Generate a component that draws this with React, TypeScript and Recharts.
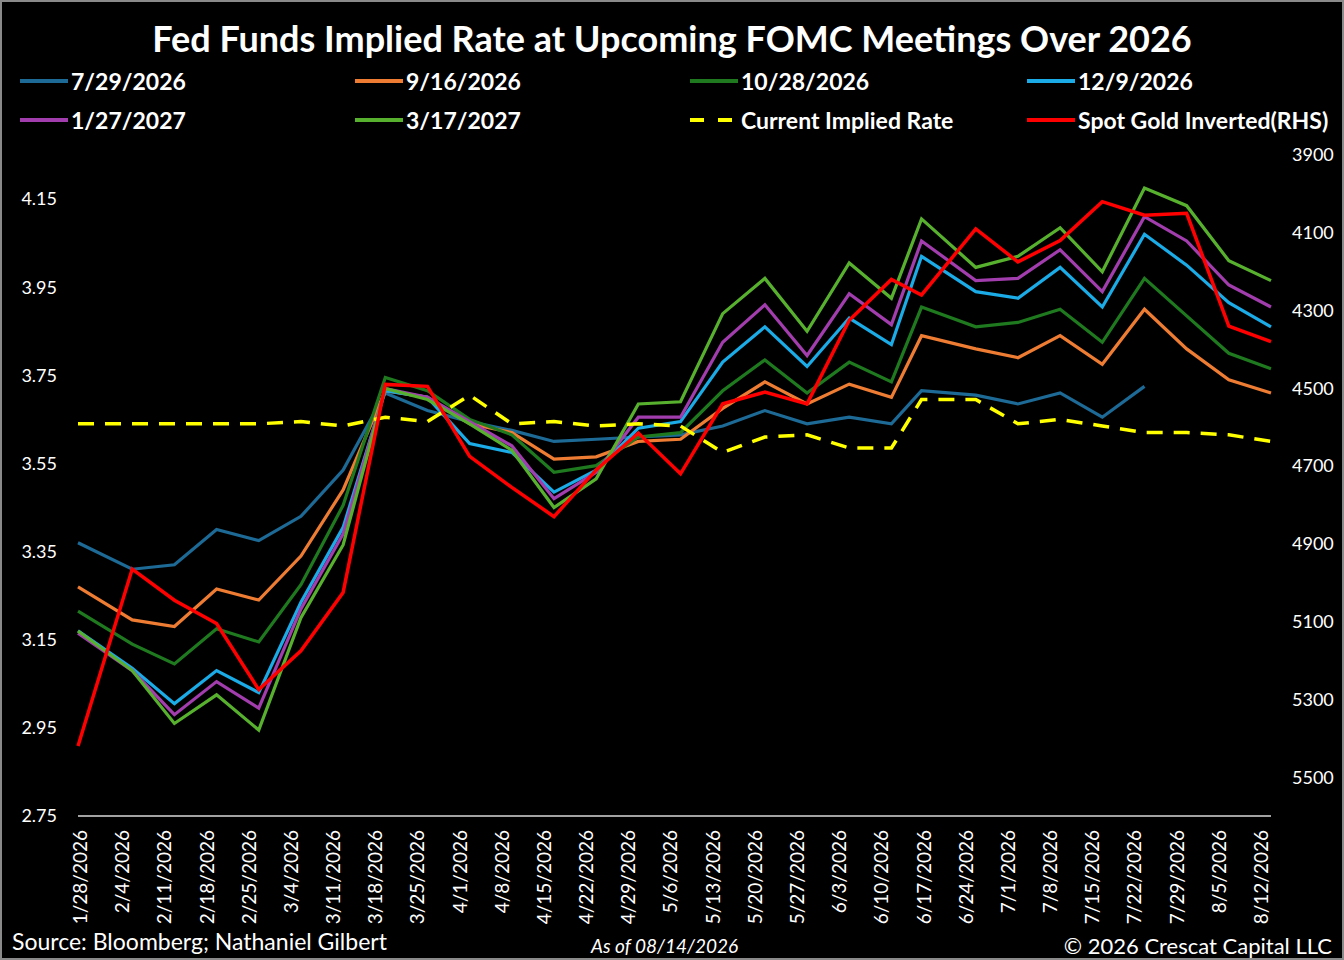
import React from 'react';
import { LineChart, Line, XAxis, YAxis } from 'recharts';

// weekly axis labels (Wednesdays); day offset from 1/28/2026 is index * 7
const tickLabels = [
  '1/28/2026', '2/4/2026', '2/11/2026', '2/18/2026', '2/25/2026', '3/4/2026', '3/11/2026',
  '3/18/2026', '3/25/2026', '4/1/2026', '4/8/2026', '4/15/2026', '4/22/2026', '4/29/2026',
  '5/6/2026', '5/13/2026', '5/20/2026', '5/27/2026', '6/3/2026', '6/10/2026', '6/17/2026',
  '6/24/2026', '7/1/2026', '7/8/2026', '7/15/2026', '7/22/2026', '7/29/2026', '8/5/2026',
  '8/12/2026',
];
const tickDays = tickLabels.map((_, i) => i * 7);

// observation dates, days since 1/28/2026
const obsDays = [
  0, 9, 16, 23, 30, 37, 44, 51, 58, 65, 72, 79, 86, 93, 100, 107, 114, 121, 128, 135,
  140, 149, 156, 163, 170, 177, 184, 191, 198,
];

const fomc0729 = [
  3.37, 3.31, 3.32, 3.4, 3.375, 3.43, 3.535, 3.71, 3.67, 3.645, 3.625, 3.6, 3.605, 3.61, 3.615,
  3.635, 3.67, 3.64, 3.655, 3.64, 3.715, 3.705, 3.685, 3.71, 3.655, 3.725, null, null, null,
];
const fomc0916 = [
  3.27, 3.195, 3.18, 3.265, 3.24, 3.34, 3.49, 3.715, 3.7, 3.64, 3.62, 3.56, 3.565, 3.6, 3.605,
  3.675, 3.735, 3.685, 3.73, 3.7, 3.84, 3.81, 3.79, 3.84, 3.775, 3.9, 3.81, 3.74, 3.71,
];
const fomc1028 = [
  3.215, 3.14, 3.095, 3.175, 3.145, 3.275, 3.455, 3.745, 3.715, 3.65, 3.615, 3.53, 3.545, 3.61,
  3.62, 3.715, 3.785, 3.71, 3.78, 3.735, 3.905, 3.86, 3.87, 3.9, 3.825, 3.97, 3.885, 3.8, 3.765,
];
const fomc1209 = [
  3.17, 3.085, 3.005, 3.08, 3.03, 3.235, 3.405, 3.715, 3.7, 3.595, 3.575, 3.485, 3.535, 3.63,
  3.645, 3.78, 3.86, 3.77, 3.88, 3.82, 4.02, 3.94, 3.925, 3.995, 3.905, 4.07, 4.0, 3.915, 3.86,
];
const fomc0127 = [
  3.165, 3.08, 2.98, 3.055, 2.995, 3.22, 3.39, 3.72, 3.7, 3.645, 3.59, 3.47, 3.53, 3.655, 3.655,
  3.825, 3.91, 3.795, 3.935, 3.865, 4.055, 3.965, 3.97, 4.035, 3.94, 4.11, 4.055, 3.955, 3.905,
];
const fomc0317 = [
  3.17, 3.08, 2.96, 3.025, 2.945, 3.2, 3.365, 3.72, 3.695, 3.64, 3.58, 3.45, 3.515, 3.685, 3.69,
  3.89, 3.97, 3.85, 4.005, 3.925, 4.105, 3.995, 4.02, 4.085, 3.985, 4.175, 4.135, 4.01, 3.965,
];
const currentImplied = [
  3.64, 3.64, 3.64, 3.64, 3.64, 3.645, 3.635, 3.655, 3.645, 3.705, 3.64, 3.645, 3.635, 3.64,
  3.635, 3.575, 3.61, 3.615, 3.585, 3.585, 3.695, 3.695, 3.64, 3.65, 3.635, 3.62, 3.62, 3.615, 3.6,
];
const spotGold = [
  5420, 4965, 5045, 5105, 5275, 5175, 5025, 4490, 4495, 4675, 4755, 4830, 4710, 4615, 4720,
  4540, 4510, 4540, 4325, 4220, 4260, 4090, 4175, 4120, 4020, 4055, 4050, 4340, 4380,
];

const leftTicks = [2.75, 2.95, 3.15, 3.35, 3.55, 3.75, 3.95, 4.15];
const rightTicks = [3900, 4100, 4300, 4500, 4700, 4900, 5100, 5300, 5500];

const series = [
  { key: 'm0729', name: '7/29/2026', color: '#1D6A96', values: fomc0729 },
  { key: 'm0916', name: '9/16/2026', color: '#EE7D33', values: fomc0916 },
  { key: 'm1028', name: '10/28/2026', color: '#1F7A1F', values: fomc1028 },
  { key: 'm1209', name: '12/9/2026', color: '#1BABE6', values: fomc1209 },
  { key: 'm0127', name: '1/27/2027', color: '#A23DAE', values: fomc0127 },
  { key: 'm0317', name: '3/17/2027', color: '#58B12E', values: fomc0317 },
];

const data = obsDays.map((day, i) => {
  const row: any = { day, current: currentImplied[i], gold: spotGold[i] };
  series.forEach((s) => (row[s.key] = s.values[i]));
  return row;
});

const legendItems = [
  { name: '7/29/2026', color: '#1D6A96', dashed: false },
  { name: '9/16/2026', color: '#EE7D33', dashed: false },
  { name: '10/28/2026', color: '#1F7A1F', dashed: false },
  { name: '12/9/2026', color: '#1BABE6', dashed: false },
  { name: '1/27/2027', color: '#A23DAE', dashed: false },
  { name: '3/17/2027', color: '#58B12E', dashed: false },
  { name: 'Current Implied Rate', color: '#FFFF00', dashed: true },
  { name: 'Spot Gold Inverted(RHS)', color: '#FF0000', dashed: false },
];

const FONT = 'Lato, "Open Sans", sans-serif';

const DateTick = (props: any) => {
  const { x, y, payload } = props;
  const idx = tickDays.indexOf(payload.value);
  return (
    <text
      transform={`translate(${x + 9},${y + 14}) rotate(-90)`}
      textAnchor="end"
      fill="#fff"
      fontSize={19}
      fontFamily={FONT}
    >
      {tickLabels[idx]}
    </text>
  );
};

export default function App() {
  const legendCols = [20, 355, 690, 1027];
  const legendRows = [81, 120];

  return (
    <div style={{ position: 'absolute', left: 0, top: 0, width: 1344, height: 960, background: '#000', fontFamily: FONT, color: '#fff', overflow: 'hidden' }}>
      <div style={{ position: 'absolute', inset: 0, border: '2px solid #8a8a8a', pointerEvents: 'none', zIndex: 2 }} />
      <div style={{ position: 'absolute', top: 15, left: 0, width: 1344, textAlign: 'center', fontSize: 36, fontWeight: 700, lineHeight: '46px' }}>
        Fed Funds Implied Rate at Upcoming FOMC Meetings Over 2026
      </div>

      {legendItems.map((item, i) => (
        <div
          key={item.name}
          style={{
            position: 'absolute',
            left: legendCols[i % 4],
            top: legendRows[Math.floor(i / 4)] - 15,
            height: 30,
            display: 'flex',
            alignItems: 'center',
            fontSize: 23,
            fontWeight: 700,
            whiteSpace: 'nowrap',
          }}
        >
          <svg width={50} height={8} style={{ marginRight: 1 }}>
            <line
              x1={0}
              x2={48}
              y1={4}
              y2={4}
              stroke={item.color}
              strokeWidth={4}
              strokeDasharray={item.dashed ? '14 14' : undefined}
            />
          </svg>
          {item.name}
        </div>
      ))}

      <LineChart width={1344} height={960} data={data} margin={{ top: 155, right: 0, bottom: 0, left: 0 }}>
        <XAxis
          dataKey="day"
          type="number"
          domain={[0, 198]}
          ticks={tickDays}
          interval={0}
          height={144}
          tickSize={0}
          tickMargin={0}
          tickLine={false}
          axisLine={{ stroke: '#d9d9d9', strokeWidth: 1.5 }}
          tick={<DateTick />}
        />
        <YAxis
          yAxisId="left"
          width={78}
          domain={[2.75, 4.25]}
          ticks={leftTicks}
          interval={0}
          axisLine={false}
          tickLine={false}
          tickSize={0}
          tickMargin={21}
          tickFormatter={(v: number) => v.toFixed(2)}
          tick={{ fill: '#fff', fontSize: 18, fontFamily: FONT }}
        />
        <YAxis
          yAxisId="right"
          orientation="right"
          width={73}
          reversed
          domain={[3900, 5600]}
          ticks={rightTicks}
          interval={0}
          axisLine={false}
          tickLine={false}
          tickSize={0}
          tickMargin={21}
          tick={{ fill: '#fff', fontSize: 18, fontFamily: FONT, textAnchor: 'start' }}
        />
        {series.map((s) => (
          <Line
            key={s.key}
            yAxisId="left"
            type="linear"
            dataKey={s.key}
            stroke={s.color}
            strokeWidth={3.2}
            dot={false}
            isAnimationActive={false}
          />
        ))}
        <Line
          yAxisId="left"
          type="linear"
          dataKey="current"
          stroke="#FFFF00"
          strokeWidth={3.5}
          strokeDasharray="16 11"
          dot={false}
          isAnimationActive={false}
        />
        <Line
          yAxisId="right"
          type="linear"
          dataKey="gold"
          stroke="#FF0000"
          strokeWidth={3.5}
          dot={false}
          isAnimationActive={false}
        />
      </LineChart>

      <div style={{ position: 'absolute', left: 12, top: 927, fontSize: 23, whiteSpace: 'nowrap' }}>
        Source: Bloomberg; Nathaniel Gilbert
      </div>
      <div style={{ position: 'absolute', left: 591, top: 934, fontSize: 19, fontStyle: 'italic', whiteSpace: 'nowrap' }}>
        As of 08/14/2026
      </div>
      <div style={{ position: 'absolute', right: 12, top: 932, fontSize: 22, whiteSpace: 'nowrap' }}>
        © 2026 Crescat Capital LLC
      </div>
    </div>
  );
}
